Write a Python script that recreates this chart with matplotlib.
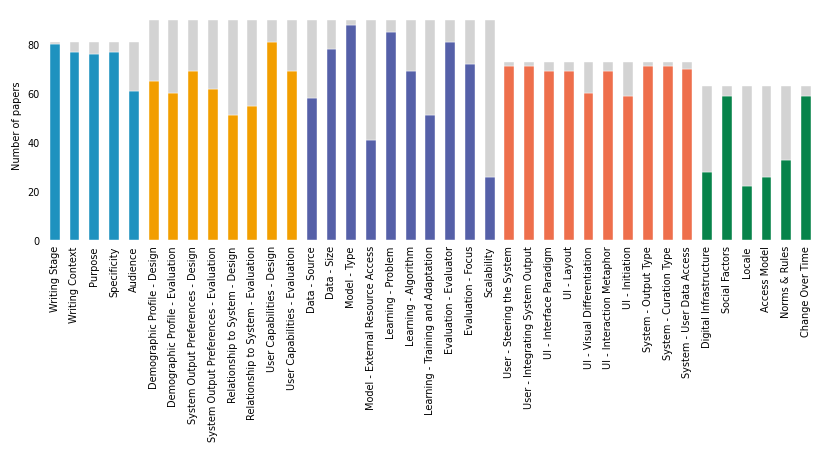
import numpy as np
import matplotlib
matplotlib.use("Agg")
import matplotlib.pyplot as plt

# -----------------------------------
# Data
# -----------------------------------

labels = [
    "Writing Stage", "Writing Context", "Purpose", "Specificity", "Audience",
    "Demographic Profile - Design", "Demographic Profile - Evaluation",
    "System Output Preferences - Design", "System Output Preferences - Evaluation",
    "Relationship to System - Design", "Relationship to System - Evaluation",
    "User Capabilities - Design", "User Capabilities - Evaluation",
    "Data - Source", "Data - Size", "Model - Type", "Model - External Resource Access",
    "Learning - Problem", "Learning - Algorithm", "Learning - Training and Adaptation",
    "Evaluation - Evaluator", "Evaluation - Focus", "Scalability",
    "User - Steering the System", "User - Integrating System Output",
    "UI - Interface Paradigm", "UI - Layout", "UI - Visual Differentiation",
    "UI - Interaction Metaphor", "UI - Initiation", "System - Output Type",
    "System - Curation Type", "System - User Data Access",
    "Digital Infrastructure", "Social Factors", "Locale", "Access Model",
    "Norms & Rules", "Change Over Time",
]

counts = [
    80, 77, 76, 77, 61,
    65, 60, 69, 62, 51, 55, 81, 69,
    58, 78, 88, 41, 85, 69, 51, 81, 72, 26,
    71, 71, 69, 69, 60, 69, 59, 71, 71, 70,
    28, 59, 22, 26, 33, 59,
]

group_sizes = [5, 8, 10, 10, 6]
group_totals = [81, 90, 90, 73, 63]
group_colors = ["#1e92bf", "#f29e00", "#5560a8", "#ee6f4c", "#07834a"]

# -----------------------------------
# Plot
# -----------------------------------

totals = np.repeat(group_totals, group_sizes)
colors = np.repeat(group_colors, group_sizes)
counts = np.array(counts)
x = np.arange(len(labels))

fig = plt.figure(figsize=(8.3, 4.52), dpi=100)
ax = fig.add_axes([0.054, 0.466, 0.929, 0.512])

ax.bar(x, counts, width=0.5, color=colors, edgecolor="white", linewidth=0.3)
ax.bar(x, totals - counts, bottom=counts, width=0.5, color="lightgray",
       edgecolor="white", linewidth=0.3)

ax.set_xlim(-0.5, len(labels) - 0.5)
ax.set_ylim(0, 94.5)
ax.set_xticks(x)
ax.set_xticklabels(labels, rotation=90, fontsize=7)
ax.set_yticks([0, 20, 40, 60, 80])
ax.tick_params(axis="y", labelsize=7, length=0)
ax.tick_params(axis="x", length=0)
ax.set_ylabel("Number of papers", fontsize=7)

for side in ["top", "right", "bottom", "left"]:
    ax.spines[side].set_visible(False)

plt.savefig("out.png")
